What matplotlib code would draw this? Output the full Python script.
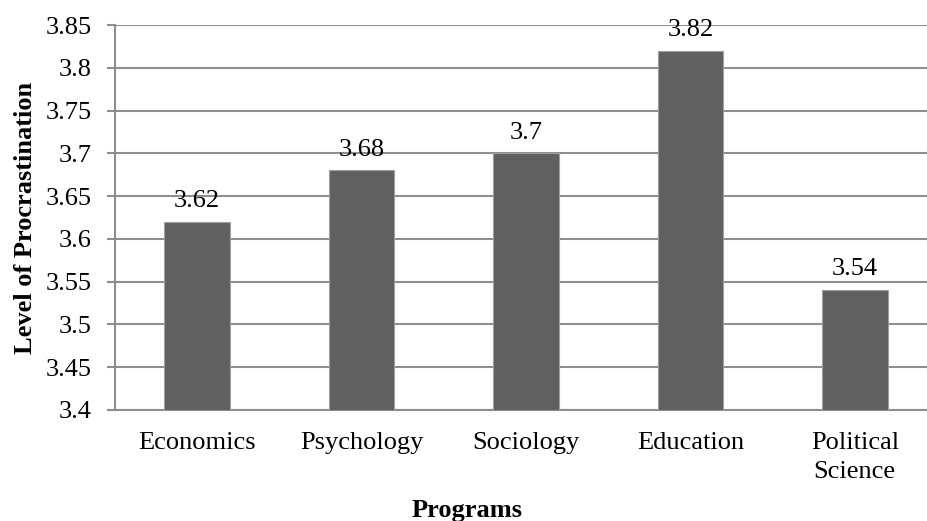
import matplotlib.pyplot as plt
import numpy as np

programs = ['Economics', 'Psychology', 'Sociology', 'Education', 'Political\nScience']
procrastination = [3.62, 3.68, 3.70, 3.82, 3.54]
value_labels = ['3.62', '3.68', '3.7', '3.82', '3.54']
yticks = [3.4, 3.45, 3.5, 3.55, 3.6, 3.65, 3.7, 3.75, 3.8, 3.85]
ytick_labels = ['3.4', '3.45', '3.5', '3.55', '3.6', '3.65', '3.7', '3.75', '3.8', '3.85']

plt.rcParams['font.family'] = ['Liberation Serif', 'DejaVu Serif']
grid_col = '#8e8e8e'

fig = plt.figure(figsize=(9.28, 5.21), dpi=100)
ax = fig.add_axes([115/928, 111/521, 822/928, 385/521])

x = np.arange(len(programs))
bars = ax.bar(x, procrastination, width=0.4, color='#606060', edgecolor='#a0a0a0',
              linewidth=0.8, zorder=3)

for b, lab in zip(bars, value_labels):
    ax.annotate(lab, (b.get_x() + b.get_width()/2, b.get_height()),
                xytext=(0, 7), textcoords='offset points',
                ha='center', va='bottom', fontsize=19)

ax.set_ylim(3.4, 3.85)
ax.set_xlim(-0.5, len(programs) - 0.5)
ax.set_yticks(yticks)
ax.set_yticklabels(ytick_labels, fontsize=19)
ax.set_xticks(x)
ax.set_xticklabels(programs, fontsize=19, linespacing=1.4)

ax.yaxis.grid(True, color=grid_col, linewidth=1.5, zorder=0)
ax.set_axisbelow(True)
ax.tick_params(axis='y', length=6, width=1.5, color=grid_col, pad=11)
ax.tick_params(axis='x', length=0, pad=16)

for side in ['top', 'right']:
    ax.spines[side].set_visible(False)
for side in ['left', 'bottom']:
    ax.spines[side].set_color(grid_col)
    ax.spines[side].set_linewidth(1.5)

ax.set_ylabel('Level of Procrastination', fontsize=19, fontweight='bold')
ax.yaxis.set_label_coords(-78/822, 0.5)
fig.text(467/928, 11/521, 'Programs', fontsize=19, fontweight='bold', ha='center', va='center')

plt.savefig('out.png', dpi=100)
